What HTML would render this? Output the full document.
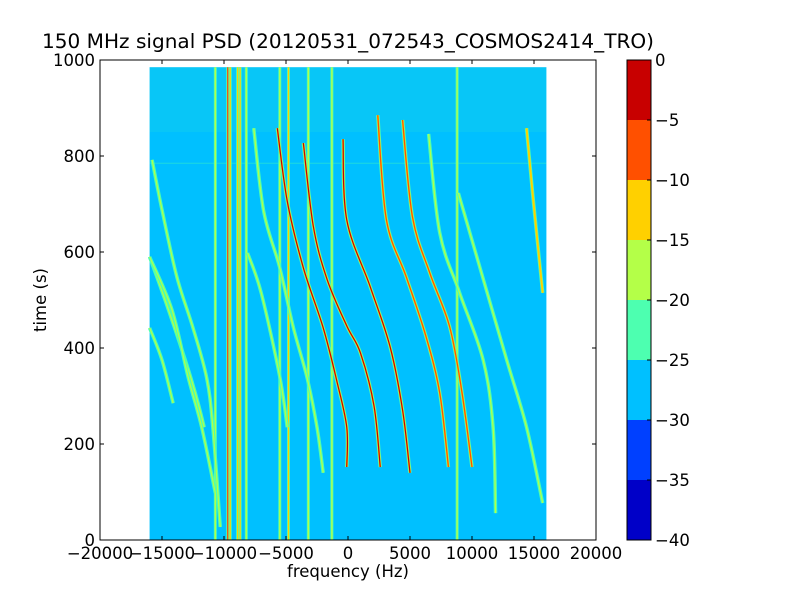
<!DOCTYPE html>
<html><head><meta charset="utf-8"><style>
body{margin:0;background:#fff}
svg text{font-family:"DejaVu Sans","Liberation Sans",sans-serif;fill:#000}
</style></head><body>
<svg id="c" width="800" height="600" xmlns="http://www.w3.org/2000/svg"></svg>
<script>
// data: traces as [freqHz, time s] points
const traceFreqs = [
 [-400,-100,1800,3400,4400,5000],
 [2400,3100,4700,6300,7400,8100],
 [4400,5200,6600,8200,9200,10000],
 [6500,7400,9000,10900,11700,11900],
 [8900,10600,12800,14400,15700],
 [14400,14900,15700],
 [-3600,-2800,-1700,-100,1000,2100,2600],
 [-5700,-4900,-3600,-2000,-900,-100,-100],
 [-7600,-6800,-5500,-4400,-3300,-2500,-2000],
 [-8100,-7000,-5500,-4900],
 [-15800,-15000,-13800,-12500,-11400,-10900,-10300],
 [-16000,-14500,-12700,-11600,-10500,-10000],
 [-16000,-14200,-12900,-11800,-10700],
 [-16000,-15000,-14100]
];
const traceTimes = [
 [835,667,527,402,271,140],
 [885,667,548,423,306,152],
 [875,673,556,444,306,152],
 [846,640,515,375,235,56],
 [723,571,375,235,77],
 [858,719,515],
 [827,654,544,446,390,279,152],
 [858,706,567,442,331,235,152],
 [858,685,567,442,338,235,140],
 [598,515,340,235],
 [792,688,548,442,338,235,27],
 [590,481,340,235,98],
 [590,480,340,235,98],
 [442,375,285]
];
const traceLevel = [-3,-8,-8,-18,-18,-15,-5,-3,-18,-18,-17,-18,-18,-18];
const vlineFreqs = [-10700,-9700,-9500,-8900,-8700,-8200,-5500,-4800,-3200,-1300,8800];
const vlineLevels = [-20,-8,-12,-13,-12,-20,-20,-14,-20,-20,-20];
const xTicks = [-20000,-15000,-10000,-5000,0,5000,10000,15000,20000];
const yTicks = [0,200,400,600,800,1000];
const cbTicks = [0,-5,-10,-15,-20,-25,-30,-35,-40];
const cbColors = ['#0000c8','#0040ff','#00c0ff','#4dffb0','#b4ff48','#ffd000','#ff5000','#c80000'];

const svg=document.getElementById('c');const NS='http://www.w3.org/2000/svg';
const L=100,R=596,T=60,B=540;
const X=f=>L+(f+20000)/40000*(R-L);
const Y=t=>B-t/1000*(B-T);
function mk(tag,a,p){const e=document.createElementNS(NS,tag);for(const k in a)e.setAttribute(k,a[k]);(p||svg).appendChild(e);return e;}
function col(v){const i=Math.max(0,Math.min(7,Math.floor((v+40)/5)));return cbColors[i];}
function smooth(p){let d='M'+p[0][0]+','+p[0][1];
 for(let i=0;i<p.length-1;i++){const p0=p[Math.max(0,i-1)],p1=p[i],p2=p[i+1],p3=p[Math.min(p.length-1,i+2)];
  d+=' C'+(p1[0]+(p2[0]-p0[0])/6)+','+(p1[1]+(p2[1]-p0[1])/6)+' '+(p2[0]-(p3[0]-p1[0])/6)+','+(p2[1]-(p3[1]-p1[1])/6)+' '+p2[0]+','+p2[1];}
 return d;}

const bg=mk('rect',{x:X(-16000),y:Y(985),width:X(16000)-X(-16000),height:Y(0)-Y(985),fill:'#00c0ff'});


const noise=mk('rect',{x:X(-16000),y:Y(985),width:X(16000)-X(-16000),height:Y(850)-Y(985),fill:'#4dffb0',opacity:0.1});


mk('line',{x1:X(-16000),x2:X(16000),y1:Y(785),y2:Y(785),stroke:'#4dffb0','stroke-width':1,opacity:0.4});

vlineFreqs.forEach((f,i)=>{
 const x=X(f);
 const g=mk('g',{});
 
 
 mk('line',{x1:x,x2:x,y1:Y(985),y2:Y(0),stroke:'#4dffb0','stroke-width':3},g);
 mk('line',{x1:x,x2:x,y1:Y(985),y2:Y(0),stroke:col(vlineLevels[i]),'stroke-width':1.3},g);
});
traceFreqs.forEach((fs,i)=>{
 const d=smooth(fs.map((f,j)=>[X(f),Y(traceTimes[i][j])]));
 const g=mk('g',{fill:'none','stroke-linejoin':'round'});
 
 
 mk('path',{d:d,stroke:'#4dffb0','stroke-width':3.5},g);
 const lv=traceLevel[i];
 if(lv>-16) mk('path',{d:d,stroke:'#ffd000','stroke-width':2},g);
 mk('path',{d:d,stroke:col(lv),'stroke-width':1.2},g);
});

const ax=mk('rect',{x:L,y:T,width:R-L,height:B-T,fill:'none',stroke:'#000','stroke-width':1});


xTicks.forEach(v=>{const x=X(v);
 mk('line',{x1:x,x2:x,y1:B,y2:B-4,stroke:'#000'});mk('line',{x1:x,x2:x,y1:T,y2:T+4,stroke:'#000'});
 const t=mk('text',{x:x,y:B+19,'text-anchor':'middle','font-size':16.5});t.textContent=v<0?'\u2212'+(-v):v;
 
 });
yTicks.forEach(v=>{const y=Y(v);
 mk('line',{x1:L,x2:L+4,y1:y,y2:y,stroke:'#000'});mk('line',{x1:R,x2:R-4,y1:y,y2:y,stroke:'#000'});
 const t=mk('text',{x:L-5,y:y+6,'text-anchor':'end','font-size':16.5});t.textContent=v;
 
 });

const title=mk('text',{x:42,y:48,'font-size':19.5,textLength:612,lengthAdjust:'spacingAndGlyphs'});title.textContent='150 MHz signal PSD (20120531_072543_COSMOS2414_TRO)';


const xl=mk('text',{x:348,y:577,'text-anchor':'middle','font-size':16.5});xl.textContent='frequency (Hz)';


const yl=mk('text',{x:46,y:300,'text-anchor':'middle','font-size':16.5,transform:'rotate(-90 46 300)'});yl.textContent='time (s)';



const CL=627,CR=651;const CY=v=>T+(0-v)/40*(B-T);
cbColors.forEach((c,i)=>{const lo=-40+i*5;
 const r=mk('rect',{x:CL,y:CY(lo+5),width:CR-CL,height:CY(lo)-CY(lo+5),fill:c});
 
 });
const cf=mk('rect',{x:CL,y:T,width:CR-CL,height:B-T,fill:'none',stroke:'#000'});


cbTicks.forEach(v=>{const y=CY(v);
 mk('line',{x1:CR-4,x2:CR,y1:y,y2:y,stroke:'#000'});
 const t=mk('text',{x:CR+4,y:y+6,'font-size':16.5});t.textContent=v<0?'\u2212'+(-v):v;
 
 });
</script>
</body></html>
